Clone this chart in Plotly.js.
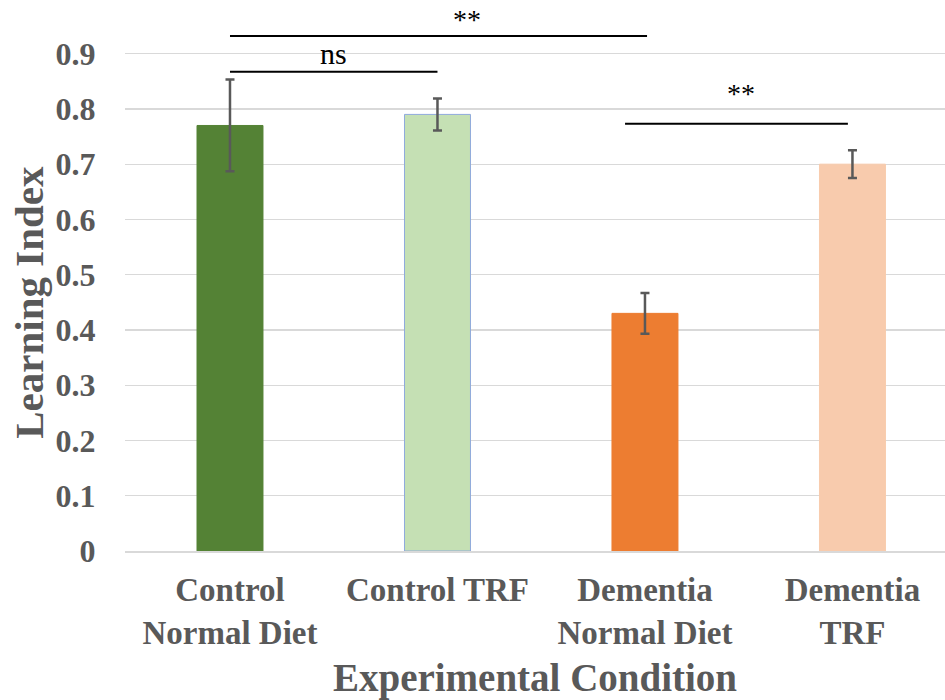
<!DOCTYPE html>
<html>
<head>
<meta charset="utf-8">
<script src="https://cdn.plot.ly/plotly-3.0.1.min.js"></script>
<style>html,body{margin:0;padding:0;background:#fff;}#chart{width:945px;height:700px;}</style>
</head>
<body>
<div id="chart"></div>
<script>
const categories = ['Control<br>Normal Diet', 'Control TRF', 'Dementia<br>Normal Diet', 'Dementia<br>TRF'];
const values = [0.77, 0.79, 0.43, 0.70];
const errors = [0.083, 0.029, 0.037, 0.025];
const barColors = ['#548235', '#C5E0B4', '#ED7D31', '#F8CBAD'];
const barBorders = ['#548235', '#8FAADC', '#ED7D31', '#F8CBAD'];
const yTicks = [0, 0.1, 0.2, 0.3, 0.4, 0.5, 0.6, 0.7, 0.8, 0.9];
const yTickText = ['0', '0.1', '0.2', '0.3', '0.4', '0.5', '0.6', '0.7', '0.8', '0.9'];
const xTitle = 'Experimental Condition';
const yTitle = 'Learning Index';

// significance brackets (category index positions)
const sigFrom = [0, 0, 1.904];
const sigTo = [1, 2.01, 2.978];
const sigY = [0.867, 0.932, 0.773];
const sigLabel = ['ns', '**', '**'];
const sigLabelX = [0.5, 1.14, 2.463];
const sigLabelY = [0.9, 0.962, 0.827];

const xIdx = categories.map((c, i) => i);
const fontFam = '"Liberation Serif", "Times New Roman", serif';

const trace = {
  type: 'bar',
  x: xIdx,
  y: values,
  width: 0.318,
  marker: {color: barColors, line: {color: barBorders, width: 1}},
  error_y: {type: 'data', array: errors, visible: true, color: '#595959', thickness: 2.5, width: 4.5},
  hoverinfo: 'none'
};

const shapes = sigFrom.map((f, i) => ({
  type: 'line', xref: 'x', yref: 'y', x0: f, x1: sigTo[i], y0: sigY[i], y1: sigY[i],
  line: {color: '#000000', width: 2}
}));

const annotations = sigLabel.map((t, i) => ({
  xref: 'x', yref: 'y', x: sigLabelX[i], y: sigLabelY[i], text: t, showarrow: false,
  xanchor: 'center', yanchor: 'middle',
  font: {family: fontFam, size: t === 'ns' ? 30 : 28, color: '#000000'}
}));

// y-axis title placed as rotated text (sits slightly below the plot's centre in the reference)
annotations.push({
  xref: 'paper', yref: 'paper', x: -0.118, y: 0.455, text: '<b>' + yTitle + '</b>', showarrow: false,
  textangle: -90, xanchor: 'center', yanchor: 'middle',
  font: {family: fontFam, size: 41, color: '#595959'}
});

const layout = {
  width: 945, height: 700,
  margin: {l: 125, r: 0, t: 5, b: 149},
  paper_bgcolor: '#ffffff', plot_bgcolor: '#ffffff',
  showlegend: false,
  bargap: 0,
  xaxis: {
    range: [-0.506, 3.446],
    tickvals: xIdx, ticktext: categories,
    ticks: 'outside', ticklen: 8, tickcolor: 'rgba(0,0,0,0)',
    showgrid: false, zeroline: false,
    showline: true, linecolor: '#D9D9D9', linewidth: 2,
    tickfont: {family: fontFam, size: 33, color: '#595959', weight: 'bold'},
    title: {text: '<b>' + xTitle + '</b>', font: {family: fontFam, size: 39, color: '#595959'}, standoff: 14},
    automargin: false, fixedrange: true
  },
  yaxis: {
    range: [0, 0.988],
    tickvals: yTicks, ticktext: yTickText,
    ticks: 'outside', ticklen: 22, tickcolor: 'rgba(0,0,0,0)',
    showgrid: true, gridcolor: '#D9D9D9', gridwidth: 1.3,
    zeroline: false, showline: false,
    tickfont: {family: fontFam, size: 32, color: '#595959', weight: 'bold'},
    automargin: false, fixedrange: true
  },
  shapes: shapes,
  annotations: annotations
};

Plotly.newPlot('chart', [trace], layout, {displayModeBar: false, staticPlot: true});
</script>
</body>
</html>
